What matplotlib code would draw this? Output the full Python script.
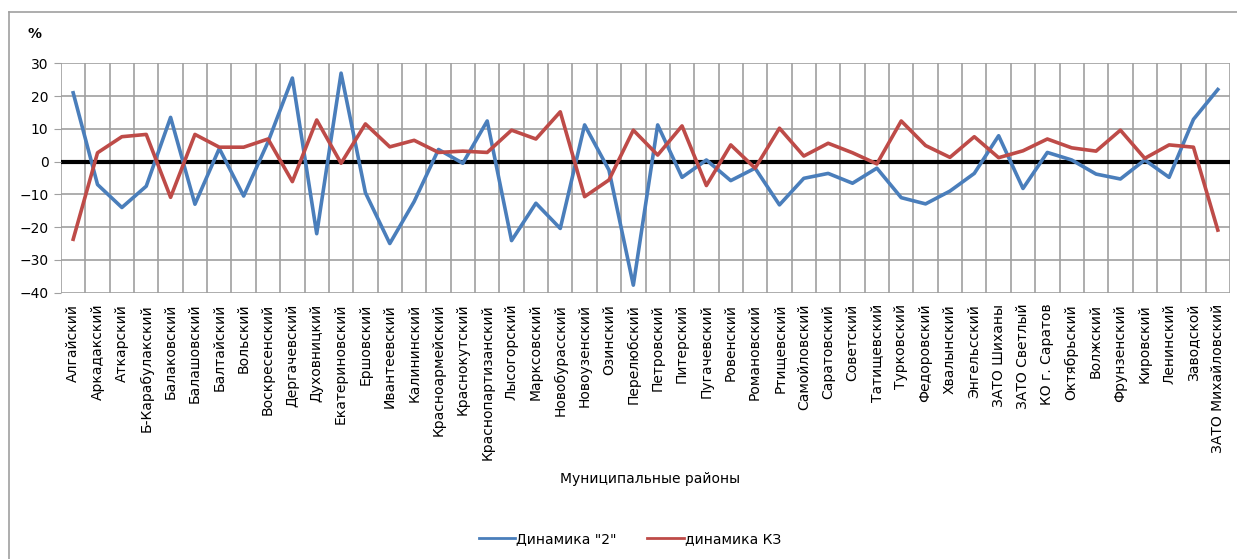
import numpy as np
import matplotlib.pyplot as plt
from matplotlib.lines import Line2D

plt.rcParams['font.family'] = ['DejaVu Sans']

## муниципальные районы
districts = ['Алгайский', 'Аркадакский', 'Аткарский', 'Б-Карабулакский', 'Балаковский',
             'Балашовский', 'Балтайский', 'Вольский', 'Воскресенский', 'Дергачевский',
             'Духовницкий', 'Екатериновский', 'Ершовский', 'Ивантеевский', 'Калининский',
             'Красноармейский', 'Краснокутский', 'Краснопартизанский', 'Лысогорский',
             'Марксовский', 'Новобурасский', 'Новоузенский', 'Озинский', 'Перелюбский',
             'Петровский', 'Питерский', 'Пугачевский', 'Ровенский', 'Романовский',
             'Ртищевский', 'Самойловский', 'Саратовский', 'Советский', 'Татищевский',
             'Турковский', 'Федоровский', 'Хвалынский', 'Энгельсский', 'ЗАТО Шиханы',
             'ЗАТО Светлый', 'КО г. Саратов', 'Октябрьский', 'Волжский', 'Фрунзенский',
             'Кировский', 'Ленинский', 'Заводской', 'ЗАТО Михайловский']

## динамика "2"
dyn_2 = [21, -7, -14, -7.5, 13.5, -13, 4, -10.5, 6, 25.5,
         -22, 27, -9.5, -25, -12.2, 3.7, -0.5, 12.4, -24.1, -12.7,
         -20.4, 11.2, -2.6, -37.7, 11.2, -4.8, 0.5, -5.8, -2, -13.2,
         -5.1, -3.6, -6.6, -2, -11, -12.9, -9, -3.6, 7.9, -8.2,
         2.8, 0.5, -3.8, -5.3, 0.5, -4.8, 12.9, 22]

## динамика КЗ
dyn_kz = [-23.7, 2.7, 7.6, 8.3, -10.9, 8.3, 4.4, 4.4, 6.9, -6.1,
          12.7, -0.5, 11.5, 4.5, 6.5, 2.8, 3.2, 2.8, 9.6, 6.9,
          15.2, -10.7, -5.6, 9.6, 2, 10.9, -7.3, 5.1, -2, 10.2,
          1.7, 5.6, 2.7, -0.7, 12.4, 4.9, 1.3, 7.6, 1.2, 3.3,
          6.9, 4.2, 3.2, 9.6, 1, 5.1, 4.4, -20.9]

blue = '#4a7ebb'
red = '#be4b48'
x = np.arange(len(districts))

fig = plt.figure(figsize=(12.37, 5.59), dpi=100)
ax = fig.add_axes([61 / 1237, 1 - 292.7 / 559, (1230 - 61) / 1237, (292.7 - 63.3) / 559])

## сетка: вертикальные линии между категориями, горизонтальные по делениям
for b in np.arange(-0.5, len(districts) + 0.5, 1):
    ax.axvline(b, color='#a0a0a0', lw=1.2, zorder=0)
for yv in range(-40, 31, 10):
    ax.axhline(yv, color='#a0a0a0', lw=1.2, zorder=0)
ax.axhline(0, color='black', lw=3, zorder=1)

ax.plot(x, dyn_2, color=blue, lw=2.6, zorder=3)
ax.plot(x, dyn_kz, color=red, lw=2.6, zorder=3)

ax.set_xlim(-0.5, len(districts) - 0.5)
ax.set_ylim(-40, 30)
ax.set_yticks(range(-40, 31, 10))
ax.set_xticks(x)
ax.set_xticklabels(districts, rotation=90, fontsize=10)
ax.tick_params(axis='x', length=0, pad=8)
ax.tick_params(axis='y', length=5, color='#a0a0a0', labelsize=10, pad=4)
for s in ax.spines.values():
    s.set_visible(False)

fig.text(650 / 1237, 1 - 479 / 559, 'Муниципальные районы', ha='center', va='center', fontsize=10)
fig.text(34 / 1237, 1 - 34 / 559, '%', ha='center', va='center', fontsize=10, fontweight='bold')

## легенда
handles = [Line2D([], [], color=blue, lw=2), Line2D([], [], color=red, lw=2)]
fig.legend(handles, ['Динамика "2"', 'динамика КЗ'], loc='center',
           bbox_to_anchor=(630 / 1237, 1 - 539 / 559), ncol=2, frameon=False,
           fontsize=10, handlelength=2.6, columnspacing=2.2, handletextpad=0.1)

## рамка диаграммы
fig.add_artist(Line2D([9 / 1237, 1], [1 - 12 / 559, 1 - 12 / 559], color='#a0a0a0', lw=1.2))
fig.add_artist(Line2D([9 / 1237, 9 / 1237], [0, 1 - 12 / 559], color='#a0a0a0', lw=1.2))

fig.savefig('out.png', dpi=100)
